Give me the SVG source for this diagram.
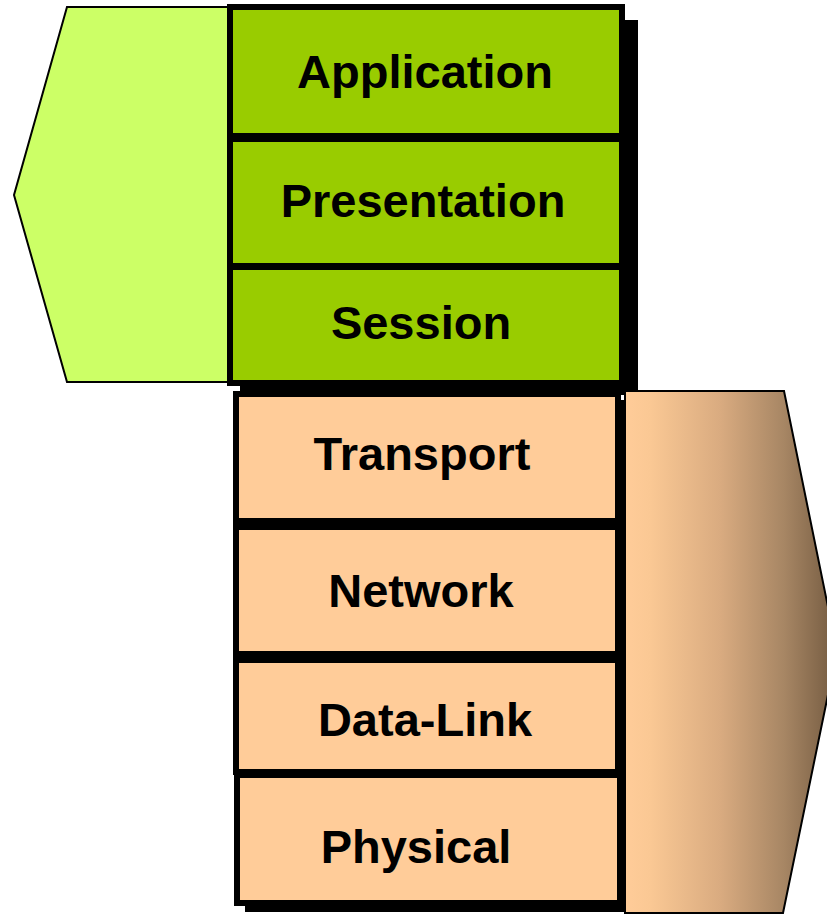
<svg xmlns="http://www.w3.org/2000/svg" width="827" height="917" viewBox="0 0 827 917">
<defs>
<style>
.lbl{font-family:"Liberation Sans",Arial,sans-serif;font-weight:bold;font-size:47px;fill:#000;text-anchor:middle}
.g{fill:#99CC00;stroke:#000;stroke-width:6}
.o{fill:#FFCC99;stroke:#000;stroke-width:6}
.sh{fill:#000}
</style>
<linearGradient id="brown" gradientUnits="userSpaceOnUse" x1="625" y1="0" x2="837" y2="0">
<stop offset="0" stop-color="#FFCC99"/>
<stop offset="0.12" stop-color="#FAC894"/>
<stop offset="0.45" stop-color="#D9AB80"/>
<stop offset="0.75" stop-color="#A78664"/>
<stop offset="1" stop-color="#735A40"/>
</linearGradient>
</defs>
<rect width="827" height="917" fill="#fff"/>
<g id="upper-bracket">
<polygon points="67,7 228,7 228,382 67,382 14,195" fill="#CCFF66" stroke="#000" stroke-width="2"/>
</g>
<g id="upper-shadow"><rect class="sh" x="240" y="20" width="398" height="375"/></g>
<g id="application"><rect class="g" x="230" y="7" width="392" height="129"/><text class="lbl" x="425" y="88">Application</text></g>
<g id="presentation"><rect class="g" x="230" y="139" width="392" height="127"/><text class="lbl" x="423" y="217">Presentation</text></g>
<g id="session"><rect class="g" x="230" y="267" width="392" height="116"/><text class="lbl" x="421" y="339">Session</text></g>
<g id="lower-shadow"><rect class="sh" x="245" y="400" width="383" height="512"/></g>
<g id="lower-bracket">
<polygon points="625,391 784,391 837,651 783,913 625,913" fill="url(#brown)" stroke="#000" stroke-width="2"/>
</g>
<g id="transport"><rect class="o" x="236" y="394" width="382" height="127"/><text class="lbl" x="422" y="470">Transport</text></g>
<g id="network"><rect class="o" x="236" y="527" width="382" height="127"/><text class="lbl" x="421" y="607">Network</text></g>
<g id="data-link"><rect class="o" x="236" y="660" width="382" height="112"/><text class="lbl" x="425" y="736">Data-Link</text></g>
<g id="physical"><rect class="o" x="237" y="775" width="383" height="128"/><text class="lbl" x="416" y="863">Physical</text></g>
<g id="connectors"></g>
</svg>
